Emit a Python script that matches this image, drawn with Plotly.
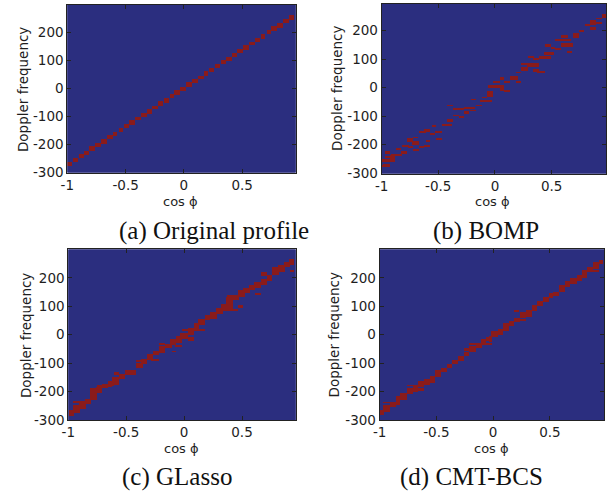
import numpy as np
import plotly.graph_objects as go

# ---------------- data ----------------
# (a) Original profile: centres of the staircase cells
a_cos = [-0.979, -0.930, -0.881, -0.833, -0.784, -0.735, -0.686, -0.637, -0.589, -0.540,
         -0.491, -0.442, -0.393, -0.345, -0.296, -0.247, -0.198, -0.149, -0.101, -0.052,
         -0.003, 0.046, 0.095, 0.144, 0.192, 0.241, 0.290, 0.339, 0.388, 0.436,
         0.485, 0.534, 0.583, 0.632, 0.680, 0.729, 0.778, 0.827, 0.876, 0.924]
a_freq = [-271, -258, -244, -231, -217, -204, -191, -177, -164, -150,
          -137, -123, -110, -97, -83, -70, -56, -43, -29, -16,
          -3, 11, 24, 38, 51, 64, 78, 91, 105, 118,
          132, 145, 158, 172, 185, 199, 212, 225, 239, 252]

# (b) BOMP: active cells (cos lo, cos hi, freq lo, freq hi)
b_cos_lo = [-0.985, -1.009, -1.009, -0.927, -0.974, -0.974, -0.921, -0.868, -0.833, -0.819,
            -0.769, -0.775, -0.731, -0.722, -0.716, -0.672, -0.672, -0.629, -0.629, -0.614,
            -0.570, -0.564, -0.518, -0.526, -0.468, -0.418, -0.418, -0.371, -0.371, -0.322,
            -0.272, -0.272, -0.219, -0.213, -0.167, -0.126, -0.117, -0.073,
            -0.064, 0.038, 0.082, -0.020, 0.038, 0.082, 0.135, 0.185, 0.185, 0.228,
            0.234, 0.287, 0.281, 0.331, 0.331, 0.375, 0.389, 0.433, 0.439, 0.486,
            0.535, 0.535, 0.585, 0.585, 0.632, 0.690, 0.740, 0.790, 0.837, 0.837,
            0.886, 0.886, 0.936]
b_cos_hi = [-0.927, -0.950, -0.877, -0.877, -0.921, -0.927, -0.819, -0.827, -0.775, -0.760,
            -0.716, -0.722, -0.672, -0.681, -0.672, -0.629, -0.614, -0.570, -0.570, -0.570,
            -0.526, -0.518, -0.468, -0.468, -0.380, -0.371, -0.371, -0.322, -0.272, -0.272,
            -0.225, -0.175, -0.167, -0.167, -0.117, -0.029, -0.073, -0.020,
            0.082, 0.082, 0.135, 0.038, 0.082, 0.135, 0.199, 0.228, 0.228, 0.287,
            0.331, 0.340, 0.389, 0.389, 0.389, 0.439, 0.486, 0.521, 0.492, 0.535,
            0.579, 0.667, 0.690, 0.638, 0.682, 0.740, 0.784, 0.842, 0.895, 0.886,
            0.936, 0.936, 0.983]
b_freq_lo = [-281, -279, -259, -258, -247, -232, -239, -218, -232, -206,
             -212, -191, -198, -177, -224, -212, -158, -157, -206, -191,
             -166, -140, -185, -160, -134, -120, -65, -100, -80, -107,
             -91, -74, -85, -45, -65, -52, -37, -30,
             2, -11, -17, 16, 30, 17, 30, 16, 51, 61,
             82, 104, 74, 96, 55, 51, 102, 117, 143, 136,
             132, 164, 143, 178, 122, 178, 197, 218, 222, 204,
             224, 239, 245]
b_freq_hi = [-268, -274, -254, -235, -241, -226, -233, -212, -226, -201,
             -203, -178, -187, -172, -218, -203, -152, -145, -201, -186,
             -160, -134, -177, -154, -128, -114, -59, -95, -74, -101,
             -85, -68, -80, -39, -59, -46, -31, -11,
             9, 2, -9, 23, 37, 23, 40, 23, 57, 70,
             89, 112, 87, 102, 62, 58, 110, 124, 150, 144,
             139, 171, 157, 185, 129, 190, 204, 224, 237, 210,
             231, 245, 258]

# (c) GLasso
c_cos_lo = [-0.991, -0.957, -0.906, -0.855, -0.806, -0.758, -0.706, -0.664, -0.615, -0.564,
            -0.513, -0.416, -0.370, -0.322, -0.265, -0.222, -0.171, -0.122, -0.074, -0.037,
            -0.957, -0.749, -0.607, -0.416, -0.285, -0.216, -0.114, -0.023, -0.080,
            -0.037, 0.026, 0.077, 0.120, 0.177, 0.220, 0.271, 0.319, 0.362, 0.419,
            0.462, 0.510, 0.561, 0.604, 0.661, 0.710, 0.761, 0.812, 0.861, 0.903,
            -0.023, 0.026, 0.271, 0.368, 0.462, 0.613, 0.661, 0.909]
c_cos_hi = [-0.949, -0.900, -0.849, -0.798, -0.749, -0.706, -0.655, -0.607, -0.558, -0.513,
            -0.416, -0.364, -0.322, -0.265, -0.216, -0.165, -0.114, -0.065, -0.023, 0.006,
            -0.849, -0.621, -0.558, -0.364, -0.216, -0.171, -0.074, 0.006, -0.023,
            0.034, 0.083, 0.128, 0.177, 0.225, 0.277, 0.328, 0.419, 0.425, 0.470,
            0.519, 0.567, 0.613, 0.661, 0.710, 0.761, 0.818, 0.869, 0.909, 0.955,
            0.177, 0.077, 0.462, 0.419, 0.510, 0.661, 0.710, 0.955]
c_freq_lo = [-285, -275, -258, -243, -229, -204, -189, -181, -174, -157,
             -139, -116, -102, -88, -73, -65, -46, -35, -27, -7,
             -238, -184, -138, -96, -90, -35, -61, 12, -42,
             -15, 2, 20, 35, 51, 58, 74, 88, 109, 124,
             132, 147, 157, 164, 176, 190, 211, 222, 240, 243,
             14, -21, 86, 132, 98, 141, 210, 222]
c_freq_hi = [-264, -247, -235, -223, -189, -183, -174, -166, -148, -137,
             -123, -102, -84, -70, -56, -42, -32, -15, -3, 8,
             -232, -177, -131, -90, -85, -29, -56, 18, -35,
             8, 25, 39, 54, 66, 78, 95, 106, 130, 141,
             155, 162, 174, 182, 197, 213, 240, 243, 257, 268,
             20, -7, 91, 138, 104, 147, 220, 228]

# (d) CMT-BCS
d_cos_lo = [-1.000, -0.966, -0.913, -0.864, -0.815, -0.763, -0.710, -0.661, -0.612, -0.560,
            -0.508, -0.458, -0.409, -0.357, -0.305, -0.255, -0.206, -0.154, -0.110, -0.061,
            -0.015, -0.966, -0.763, -0.719, -0.612, -0.264, -0.206,
            -0.041, -0.018, 0.040, 0.089, 0.139, 0.185, 0.243, 0.292, 0.336, 0.388,
            0.437, 0.487, 0.533, 0.582, 0.631, 0.684, 0.736, 0.785, 0.829, 0.881,
            0.930, 0.185, 0.234, 0.829]
d_cos_hi = [-0.960, -0.908, -0.864, -0.815, -0.763, -0.710, -0.661, -0.612, -0.560, -0.508,
            -0.458, -0.409, -0.357, -0.305, -0.255, -0.206, -0.154, -0.102, -0.061, -0.015,
            0.020, -0.879, -0.647, -0.612, -0.508, -0.206, -0.009,
            -0.006, 0.040, 0.089, 0.139, 0.185, 0.243, 0.292, 0.336, 0.388, 0.437,
            0.487, 0.533, 0.582, 0.631, 0.684, 0.736, 0.785, 0.829, 0.881, 0.930,
            0.974, 0.234, 0.292, 0.930]
d_freq_lo = [-278, -270, -252, -247, -229, -208, -200, -183, -174, -160,
             -148, -131, -116, -102, -90, -76, -61, -46, -32, -21,
             -7, -241, -181, -195, -169, -56, -36,
             -23, -9, 2, 14, 31, 43, 60, 66, 86, 101,
             116, 130, 135, 153, 167, 182, 190, 201, 222, 234,
             248, 81, 49, 221]
d_freq_hi = [-264, -250, -235, -218, -204, -189, -177, -166, -157, -146,
             -125, -116, -104, -90, -76, -61, -42, -27, -15, -7,
             12, -235, -175, -189, -162, -50, -30,
             -4, 12, 20, 39, 46, 60, 78, 89, 104, 120,
             132, 147, 153, 174, 187, 199, 213, 228, 240, 255,
             262, 88, 54, 227]

x_tick_vals = [-1, -0.5, 0, 0.5]
x_tick_text = ["-1", "-0.5", "0", "0.5"]
y_tick_vals = [-300, -200, -100, 0, 100, 200]
y_tick_text = ["-300", "-200", "-100", "0", "100", "200"]

captions = ["(a) Original profile", "(b) BOMP", "(c) GLasso", "(d) CMT-BCS"]
x_title = "cos ϕ"
y_title = "Doppler frequency"

# ---------------- styling / geometry ----------------
W, H = 607, 502
BLUE = "#2b2e7f"
RED = "#8a1b1b"
TXT = "#1e1e1e"
A_HALF_W = 0.023
A_HALF_H = 7

# raster on which the image cells are drawn (about 1.2 px per brick)
gx = np.arange(-1.0 + 0.005, 1.0, 0.01)
gy = np.arange(-304 + 2.0, 304, 4.0)


def raster(x0s, x1s, y0s, y1s):
    z = np.zeros((len(gy), len(gx)), dtype=int)
    for a, b, c, d in zip(x0s, x1s, y0s, y1s):
        mx = (gx >= a) & (gx <= b)
        my = (gy >= c) & (gy <= d)
        if not my.any():
            my = np.abs(gy - (c + d) / 2) == np.abs(gy - (c + d) / 2).min()
        z[np.ix_(my, mx)] = 1
    return z


panels = [
    raster([c - A_HALF_W for c in a_cos], [c + A_HALF_W for c in a_cos],
           [f - A_HALF_H for f in a_freq], [f + A_HALF_H for f in a_freq]),
    raster(b_cos_lo, b_cos_hi, b_freq_lo, b_freq_hi),
    raster(c_cos_lo, c_cos_hi, c_freq_lo, c_freq_hi),
    raster(d_cos_lo, d_cos_hi, d_freq_lo, d_freq_hi),
]

# pixel boxes of each plot area: (left, right, top, bottom)
boxes = [(61, 292, 5, 175), (379, 606, 4, 176), (62, 292, 253, 426), (377, 604, 253, 426)]
xranges = [[-1, 0.958], [-1, 0.98], [-1, 0.963], [-1, 0.977]]
yranges = [[-301, 297], [-301, 294], [-301, 300], [-301, 300]]
ytitle_pos = [(16, 90.5), (334, 90), (19, 340), (331, 340)]
xtitle_pos = [(176, 204), (491, 204), (177, 455), (490, 455)]
caption_pos = [(209, 234), (484.5, 234), (172, 484), (469.5, 484)]


def fx(p):
    return p / W


def fy(p):
    return 1 - p / H


fig = go.Figure()
layout = dict(width=W, height=H, margin=dict(l=0, r=0, t=0, b=0),
              paper_bgcolor="white", plot_bgcolor=BLUE, showlegend=False)
annotations = []
for i, z in enumerate(panels):
    n = "" if i == 0 else str(i + 1)
    fig.add_trace(go.Heatmap(z=z.tolist(), x=gx.round(4).tolist(), y=gy.round(2).tolist(),
                             colorscale=[[0, BLUE], [1, RED]], zmin=0, zmax=1,
                             showscale=False, hoverinfo="skip",
                             xaxis="x" + n, yaxis="y" + n))
    l, r, t, b = boxes[i]
    common = dict(showline=True, linecolor="#222", linewidth=1, mirror="ticks",
                  ticks="inside", ticklen=4, tickcolor="#222", tickwidth=1,
                  showgrid=False, zeroline=False, tickmode="array",
                  tickfont=dict(family="DejaVu Sans", size=13.5, color=TXT))
    layout["xaxis" + n] = dict(common, domain=[fx(l), fx(r)], range=xranges[i],
                               tickvals=x_tick_vals, ticktext=x_tick_text,
                               anchor="y" + n)
    layout["yaxis" + n] = dict(common, domain=[fy(b), fy(t)], range=yranges[i],
                               tickvals=y_tick_vals, ticktext=y_tick_text,
                               anchor="x" + n)
    annotations.append(dict(text=y_title, x=fx(ytitle_pos[i][0]), y=fy(ytitle_pos[i][1]),
                            xref="paper", yref="paper", showarrow=False, textangle=-90,
                            xanchor="center", yanchor="middle",
                            font=dict(family="DejaVu Sans", size=13.5, color=TXT)))
    annotations.append(dict(text=x_title, x=fx(xtitle_pos[i][0]), y=fy(xtitle_pos[i][1]),
                            xref="paper", yref="paper", showarrow=False,
                            xanchor="center", yanchor="middle",
                            font=dict(family="DejaVu Sans", size=13, color=TXT)))
    annotations.append(dict(text=captions[i], x=fx(caption_pos[i][0]), y=fy(caption_pos[i][1]),
                            xref="paper", yref="paper", showarrow=False,
                            xanchor="center", yanchor="middle",
                            font=dict(family="Liberation Serif", size=25, color="#111")))
layout["annotations"] = annotations
fig.update_layout(**layout)
fig.write_html("out.html", config={"displayModeBar": False},
               post_script="document.body.style.margin='0';document.body.style.padding='0';"
                           "document.body.style.overflow='hidden';")
